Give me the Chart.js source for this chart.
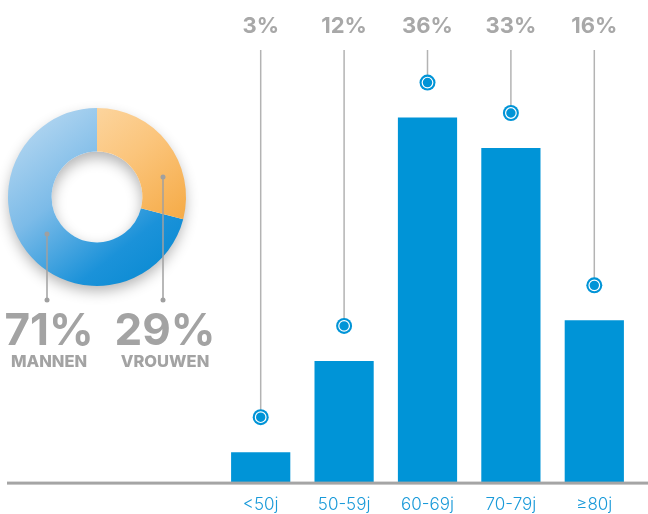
<!DOCTYPE html>
<html>
<head>
<meta charset="utf-8">
<script src="https://cdn.jsdelivr.net/npm/chart.js@4.4.1/dist/chart.umd.min.js"></script>
<style>
  html, body { margin: 0; padding: 0; background: #fff; }
  #wrap { position: relative; width: 648px; height: 514px; overflow: hidden; }
  #barChart { position: absolute; left: 0; top: 0; }
  #donutChart { position: absolute; left: 0; top: 100px; }
</style>
</head>
<body>
<div id="wrap">
  <canvas id="barChart" width="648" height="527"></canvas>
  <canvas id="donutChart" width="230" height="280"></canvas>
</div>
<script>
var ageLabels = ['<50j', '50-59j', '60-69j', '70-79j', '\u226580j'];
var ageValues = [3, 12, 36, 33, 16];
var genderLabels = ['MANNEN', 'VROUWEN'];
var genderValues = [71, 29];

var FONT = 'Inter, "Noto Sans", sans-serif';
var BLUE = '#0094d7';
var GREY = '#a5a5a5';

document.addEventListener('DOMContentLoaded', function () {

    // ===== BAR CHART =====
    var barExtras = {
        id: 'barExtras',
        afterDatasetsDraw: function (chart) {
            var ctx = chart.ctx;
            var y0 = chart.scales.y.getPixelForValue(0);
            ctx.save();
            // baseline across the whole picture
            ctx.fillStyle = GREY;
            ctx.fillRect(7, y0 - 1, chart.width - 7, 3);

            chart.getDatasetMeta(0).data.forEach(function (bar, i) {
                var x = bar.x, my = bar.y - 35;
                ctx.strokeStyle = '#b3b3b3';
                ctx.lineWidth = 1.5;
                ctx.beginPath();
                ctx.moveTo(x, 50);
                ctx.lineTo(x, my - 7);
                ctx.stroke();

                ctx.fillStyle = BLUE;
                ctx.beginPath();
                ctx.arc(x, my, 8, 0, Math.PI * 2);
                ctx.fill();
                ctx.strokeStyle = '#fff';
                ctx.lineWidth = 1.2;
                ctx.beginPath();
                ctx.arc(x, my, 5.3, 0, Math.PI * 2);
                ctx.stroke();

                ctx.fillStyle = '#a8a8a8';
                ctx.font = 'bold 22px ' + FONT;
                ctx.textAlign = 'center';
                ctx.textBaseline = 'alphabetic';
                ctx.fillText(ageValues[i] + '%', x, 33);
            });
            ctx.restore();
        }
    };

    new Chart(document.getElementById('barChart'), {
        type: 'bar',
        data: {
            labels: ageLabels,
            datasets: [{
                data: ageValues,
                backgroundColor: BLUE,
                borderWidth: 0,
                barPercentage: 0.71,
                categoryPercentage: 1
            }]
        },
        options: {
            responsive: false,
            animation: false,
            layout: { padding: { left: 219, right: 12, top: 77, bottom: 0 } },
            plugins: { legend: { display: false }, tooltip: { enabled: false } },
            scales: {
                x: {
                    grid: { display: false, drawTicks: false },
                    border: { display: false },
                    ticks: { color: '#1a9ad9', padding: 12, font: { family: FONT, size: 17, weight: '300' } }
                },
                y: { display: false, min: 0, max: 40 }
            }
        },
        plugins: [barExtras]
    });

    // ===== DONUT CHART =====
    var lineX = [47, 163];
    var dotY = [134, 77];

    var donutExtras = {
        id: 'donutExtras',
        beforeDatasetsDraw: function (chart) {
            var ctx = chart.ctx, a = chart.chartArea;
            var cx = (a.left + a.right) / 2, cy = (a.top + a.bottom) / 2, r = (a.right - a.left) / 2;
            ctx.save();
            ctx.shadowColor = 'rgba(0,0,0,0.30)';
            ctx.shadowBlur = 14;
            ctx.shadowOffsetY = 6;
            ctx.fillStyle = '#fff';
            ctx.beginPath();
            ctx.arc(cx, cy, r - 1, 0, Math.PI * 2);
            ctx.arc(cx, cy, r * 0.51, 0, Math.PI * 2, true);
            ctx.fill();
            ctx.restore();
        },
        afterDatasetsDraw: function (chart) {
            var ctx = chart.ctx;
            ctx.save();
            genderValues.forEach(function (v, i) {
                var x = lineX[i];
                ctx.strokeStyle = '#a0a0a0';
                ctx.fillStyle = '#a0a0a0';
                ctx.lineWidth = 1.5;
                ctx.beginPath();
                ctx.moveTo(x, dotY[i]);
                ctx.lineTo(x, 200);
                ctx.stroke();
                [dotY[i], 200].forEach(function (y) {
                    ctx.beginPath();
                    ctx.arc(x, y, 2.5, 0, Math.PI * 2);
                    ctx.fill();
                });

                ctx.fillStyle = '#a3a3a3';
                ctx.textAlign = 'center';
                ctx.textBaseline = 'alphabetic';
                ctx.font = 'bold 44px ' + FONT;
                ctx.fillText(v + '%', x + 2, 245);
                ctx.font = '800 16.5px ' + FONT;
                ctx.fillText(genderLabels[i], x + 2, 267);
            });
            ctx.restore();
        }
    };

    function segmentFill(c) {
        var area = c.chart.chartArea;
        if (!area) return '#ccc';
        var g = c.chart.ctx.createLinearGradient(area.left, area.top, area.right * 0.8, area.bottom);
        if (c.dataIndex === 0) {
            g.addColorStop(0, '#c3def3');
            g.addColorStop(0.45, '#7cbbe8');
            g.addColorStop(0.8, '#1b92d9');
            g.addColorStop(1, '#0a8bd3');
        } else {
            g.addColorStop(0, '#fde3bd');
            g.addColorStop(0.5, '#fbc57c');
            g.addColorStop(1, '#f3a133');
        }
        return g;
    }

    new Chart(document.getElementById('donutChart'), {
        type: 'doughnut',
        data: {
            labels: genderLabels,
            datasets: [{
                data: genderValues,
                backgroundColor: segmentFill,
                borderWidth: 0
            }]
        },
        options: {
            responsive: false,
            animation: false,
            cutout: '51%',
            rotation: genderValues[1] / 100 * 360,
            layout: { padding: { left: 8, top: 8, right: 44, bottom: 94 } },
            plugins: { legend: { display: false }, tooltip: { enabled: false } }
        },
        plugins: [donutExtras]
    });

});
</script>
</body>
</html>
